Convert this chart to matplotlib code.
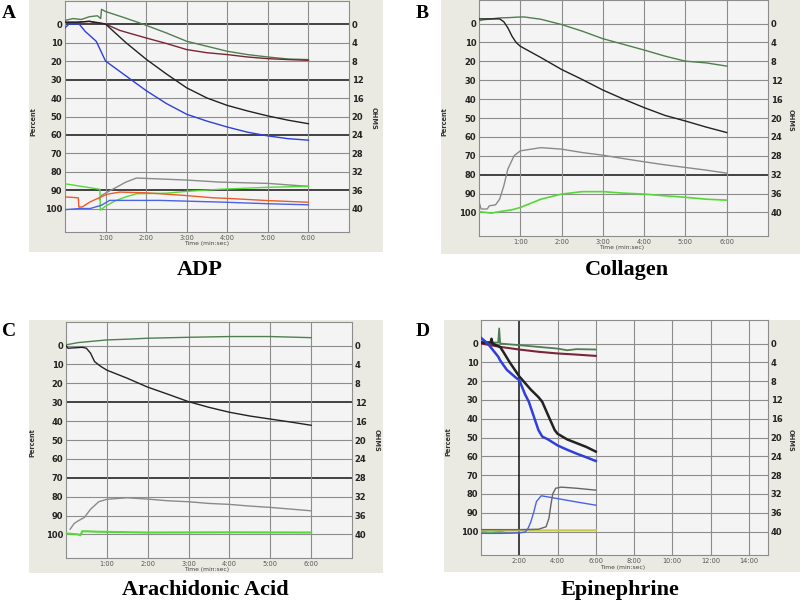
import matplotlib
matplotlib.use("Agg")
import matplotlib.pyplot as plt
from matplotlib.patches import Rectangle

W, H = 800, 603

# ---------------- data (time in minutes, value in Percent) ----------------
# Panel A: ADP
A_dkgreen_t = [0, 0.2, 0.4, 0.6, 0.8, 0.88, 0.9, 1.0, 1.5, 1.92, 2.5, 3.0, 3.5, 4.0, 4.5, 5.0, 5.5, 6.0]
A_dkgreen_v = [-2, -3, -2.5, -4, -4.5, -3, -8, -6.8, -3.2, 0, 4.8, 9.3, 12, 14.7, 16.5, 17.8, 18.9, 19.2]
A_maroon_t = [0, 0.3, 0.6, 0.8, 1.0, 1.35, 1.6, 2.0, 2.5, 3.0, 3.5, 4.0, 4.5, 5.0, 5.5, 6.0]
A_maroon_v = [-1, -1, -1.5, -0.5, 0, 3.4, 5, 7.5, 10.5, 13.8, 15.5, 16.5, 17.8, 18.7, 19.2, 19.6]
A_black_t = [0, 0.3, 0.6, 0.9, 1.0, 1.25, 1.5, 2.0, 2.5, 3.0, 3.5, 4.0, 4.5, 5.0, 5.5, 6.0]
A_black_v = [-1, -1, -1.5, -0.5, 0, 5, 10, 19, 27, 34.5, 40, 44, 47, 49.7, 52, 53.9]
A_blue_t = [0, 0.1, 0.35, 0.5, 0.77, 1.0, 1.25, 1.5, 2.0, 2.5, 3.0, 3.5, 4.0, 4.5, 5.0, 5.5, 6.0]
A_blue_v = [2, 0, 0, 4, 9.3, 20, 24, 28, 36, 43, 48.8, 52.5, 55.7, 58.5, 60.5, 62, 62.8]
A_gray_t = [0.85, 0.9, 1.06, 1.25, 1.5, 1.76, 2.0, 3.0, 3.82, 5.0, 6.0]
A_gray_v = [95, 92.7, 90.7, 88.5, 85.5, 83.3, 83.5, 84.4, 85.5, 86.2, 87.8]
A_ltgreen_t = [0, 0.86, 0.87, 1.0, 1.25, 1.5, 1.76, 2.5, 3.0, 3.8, 5.0, 6.0]
A_ltgreen_v = [86.4, 89.4, 100.7, 98.5, 95.5, 93.5, 91.8, 91.5, 90.5, 89.4, 88.3, 87.8]
A_orange_t = [0, 0.33, 0.34, 0.42, 0.62, 1.03, 1.35, 2.0, 2.34, 3.0, 3.65, 4.0, 5.0, 6.0]
A_orange_v = [93.5, 94, 99, 99, 96.2, 92.1, 90.9, 91.3, 91.8, 92.8, 94, 94.3, 95.5, 96.4]
A_ltblue_t = [0, 0.37, 0.62, 0.9, 1.1, 2.34, 3.15, 3.82, 5.0, 6.0]
A_ltblue_v = [100.4, 99.8, 99.8, 98, 95.4, 95.4, 95.9, 96.3, 97.2, 97.8]

# Panel B: Collagen
B_dkgreen_t = [0, 0.1, 0.3, 0.5, 0.75, 1.0, 1.1, 1.5, 2.0, 2.5, 3.0, 3.5, 4.0, 4.5, 5.0, 5.5, 6.0]
B_dkgreen_v = [-1.5, -2, -2.5, -3, -3.2, -3.5, -3.5, -2.3, 0.5, 4, 8, 11, 14, 17.2, 19.9, 20.8, 22.5]
B_black_t = [0, 0.3, 0.5, 0.6, 0.7, 0.8, 0.9, 1.0, 1.5, 2.0, 2.5, 3.0, 3.5, 4.0, 4.5, 5.0, 5.5, 6.0]
B_black_v = [-2.5, -2.5, -2.5, -1, 2.3, 6.7, 10, 12, 18, 24.3, 29.6, 35.2, 40, 44.5, 48.6, 51.6, 54.8, 57.7]
B_gray_t = [0, 0.05, 0.2, 0.25, 0.4, 0.5, 0.6, 0.7, 0.85, 1.0, 1.5, 2.0, 2.5, 3.0, 3.5, 4.0, 4.5, 5.0, 5.5, 6.0]
B_gray_v = [94.4, 98.2, 98.2, 96.5, 96, 93, 86, 77, 70, 67.4, 65.7, 66.5, 68.3, 69.7, 71.5, 73.2, 74.8, 76.2, 77.6, 79.2]
B_ltgreen_t = [0, 0.3, 0.5, 0.8, 1.0, 1.5, 2.0, 2.5, 3.0, 3.5, 4.0, 4.5, 5.0, 5.5, 6.0]
B_ltgreen_v = [99.6, 100.4, 99.6, 98.6, 97.4, 93, 90.3, 89, 89, 89.8, 90.3, 91.2, 92, 93, 93.5]

# Panel C: Arachidonic Acid
C_dkgreen_t = [0, 0.3, 0.5, 1.0, 1.5, 2.0, 3.0, 4.0, 5.0, 6.0]
C_dkgreen_v = [-0.4, -1.6, -2, -3, -3.4, -3.9, -4.4, -4.8, -4.8, -4.2]
C_black_t = [0, 0.05, 0.4, 0.5, 0.6, 0.7, 0.85, 1.0, 1.5, 2.0, 2.5, 3.0, 3.5, 4.0, 4.5, 5.0, 5.5, 6.0]
C_black_v = [0, 1.4, 0.9, 1.4, 4, 8.5, 11, 13, 17.3, 22, 25.8, 29.7, 32.7, 35.3, 37.3, 38.9, 40.5, 42.2]
C_gray_t = [0.1, 0.2, 0.3, 0.45, 0.6, 0.8, 1.0, 1.5, 2.0, 2.5, 3.0, 3.5, 4.0, 4.5, 5.0, 5.5, 6.0]
C_gray_v = [97.3, 94.2, 92.8, 91, 86.7, 82.7, 81.4, 80.6, 81.3, 82.2, 82.7, 83.6, 84.1, 85, 85.7, 86.6, 87.5]
C_ltgreen_t = [0, 0.3, 0.35, 0.4, 0.8, 2.0, 4.0, 6.0]
C_ltgreen_v = [99.5, 100, 100.5, 98.3, 98.6, 99, 98.9, 99]

# Panel D: Epinephrine
D_dkgreen_t = [0, 0.5, 0.9, 0.95, 1.0, 2.0, 3.0, 4.0, 4.5, 5.0, 6.0]
D_dkgreen_v = [-1, -0.5, -0.5, -8, 0, 0.9, 1.8, 2.7, 3.6, 3, 3.2]
D_maroon_t = [0, 1.0, 2.0, 3.0, 4.0, 5.0, 6.0]
D_maroon_v = [0, 1.8, 3.2, 4.4, 5.3, 5.9, 6.6]
D_black_t = [0, 0.5, 0.55, 0.6, 1.0, 1.2, 1.5, 2.0, 2.6, 3.0, 3.2, 3.5, 3.85, 4.0, 4.5, 5.0, 5.5, 6.0]
D_black_v = [-0.5, -0.5, -2.5, 0, 1.8, 5, 10, 17.5, 24.5, 28.5, 31, 38, 46, 48, 51, 53, 55, 57.5]
D_blue_t = [0, 0.35, 0.9, 1.0, 1.35, 1.8, 2.0, 2.3, 2.5, 2.8, 3.0, 3.2, 3.5, 4.0, 4.5, 5.0, 5.5, 6.0]
D_blue_v = [-3, 0, 7, 9, 14, 18, 19.5, 27, 31, 40, 46, 49.5, 51, 54.2, 56.5, 58.6, 60.5, 62.5]
D_gray_t = [0, 1.0, 2.0, 3.0, 3.4, 3.55, 3.65, 3.75, 3.9, 4.2, 5.0, 6.0]
D_gray_v = [99, 99, 99, 98.8, 97.5, 93, 86, 80, 77, 76.4, 77, 78]
D_ltblue_t = [0, 1.0, 2.0, 2.3, 2.45, 2.6, 2.75, 2.9, 3.15, 4.0, 5.0, 6.0]
D_ltblue_v = [101, 101, 100.8, 100.3, 98.5, 95, 90, 84, 81, 82.5, 84.3, 86]
D_yellow_t = [0, 2.0, 4.0, 6.0]
D_yellow_v = [99.6, 99.5, 99.4, 99.4]
D_ltgreen_t = [0, 0.5, 1.0, 1.2]
D_ltgreen_v = [100, 100.5, 100, 100.3]

percent_ticks = [0, 10, 20, 30, 40, 50, 60, 70, 80, 90, 100]
ohm_ticks = [0, 4, 8, 12, 16, 20, 24, 28, 32, 36, 40]

# ---------------- styling ----------------
C_DKGREEN = "#4f7f4f"
C_MAROON = "#7a2535"
C_BLACK = "#222222"
C_BLUE = "#2f3fdc"
C_GRAY = "#8a8a8a"
C_LTGREEN = "#55d838"
C_ORANGE = "#ee5a2a"
C_LTBLUE = "#4a62e8"
C_YELLOW = "#c8c84a"
BOX_BG = "#ebeae2"
PLOT_BG = "#f4f4f4"

fig = plt.figure(figsize=(8, 6.03), dpi=100)


def rect(x0, y0, x1, y1):
    return [x0 / W, 1 - y1 / H, (x1 - x0) / W, (y1 - y0) / H]


def ftext(x, y, s, **kw):
    fig.text(x / W, 1 - y / H, s, **kw)


def panel(box, axrect, xmax, xstep, dark_h, dark_v, curves, letter, lpos,
          title, tpos, plabel, olabel, tlabel):
    bx0, by0, bx1, by1 = box
    fig.patches.append(Rectangle((bx0 / W, 1 - by1 / H), (bx1 - bx0) / W, (by1 - by0) / H,
                                 transform=fig.transFigure, facecolor=BOX_BG,
                                 edgecolor="none", zorder=-5))
    ax = fig.add_axes(rect(*axrect))
    ax.set_zorder(1)
    ax.set_facecolor(PLOT_BG)
    ax.set_xlim(0, xmax)
    ax.set_ylim(112.5, -12.5)
    for v in percent_ticks:
        if v in dark_h:
            ax.axhline(v, color="#111111", lw=1.1, zorder=1)
        else:
            ax.axhline(v, color="#8c8c8c", lw=0.8, zorder=1)
    xt = list(range(xstep, xmax, xstep))
    for v in xt:
        if v in dark_v:
            ax.axvline(v, color="#111111", lw=1.1, zorder=1)
        else:
            ax.axvline(v, color="#8c8c8c", lw=0.8, zorder=1)
    for t, v, c, lw in curves:
        ax.plot(t, v, color=c, lw=lw, zorder=3)
    for s in ax.spines.values():
        s.set_color("#8c8c8c")
        s.set_linewidth(0.8)
    ax.set_yticks(percent_ticks)
    ax.set_yticklabels([str(v) for v in percent_ticks], fontsize=6, fontweight="bold",
                       color="#222222")
    ax.set_xticks(xt)
    ax.set_xticklabels(["%d:00" % v for v in xt], fontsize=4.8, color="#555555")
    ax.tick_params(axis="both", length=0, pad=2)
    sec = ax.secondary_yaxis("right", functions=(lambda y: y * 0.4, lambda y: y / 0.4))
    sec.set_yticks(ohm_ticks)
    sec.set_yticklabels([str(v) for v in ohm_ticks], fontsize=6, fontweight="bold",
                        color="#222222")
    sec.tick_params(length=0, pad=2)
    sec.spines["right"].set_visible(False)
    ftext(plabel[0], plabel[1], "Percent", rotation=90, ha="center", va="center",
          fontsize=4.8, fontweight="bold", color="#333333")
    ftext(olabel[0], olabel[1], "OHMS", rotation=270, ha="center", va="center",
          fontsize=4.8, fontweight="bold", color="#333333")
    ftext(tlabel[0], tlabel[1], "Time (min:sec)", ha="center", va="center",
          fontsize=4.3, color="#444444")
    ftext(lpos[0], lpos[1], letter, ha="center", va="center", fontsize=14,
          fontweight="bold", family="Liberation Serif")
    ftext(tpos[0], tpos[1], title, ha="center", va="center", fontsize=16,
          fontweight="bold", family="Liberation Serif")
    return ax


panel((29, 0, 383, 252), (65, 1, 349, 232), 7, 1, [0, 30, 60, 90], [],
      [(A_gray_t, A_gray_v, C_GRAY, 1.0),
       (A_ltgreen_t, A_ltgreen_v, C_LTGREEN, 1.0),
       (A_orange_t, A_orange_v, C_ORANGE, 1.0),
       (A_ltblue_t, A_ltblue_v, C_LTBLUE, 1.0),
       (A_dkgreen_t, A_dkgreen_v, C_DKGREEN, 1.0),
       (A_maroon_t, A_maroon_v, C_MAROON, 1.0),
       (A_black_t, A_black_v, C_BLACK, 1.0),
       (A_blue_t, A_blue_v, C_BLUE, 1.0)],
      "A", (9, 14), "ADP", (200, 270), (33, 122), (374, 118), (207, 244))

panel((441, 0, 800, 254), (479, 0, 768, 236), 7, 1, [80], [],
      [(B_gray_t, B_gray_v, C_GRAY, 1.0),
       (B_ltgreen_t, B_ltgreen_v, C_LTGREEN, 1.2),
       (B_dkgreen_t, B_dkgreen_v, C_DKGREEN, 1.0),
       (B_black_t, B_black_v, C_BLACK, 1.0)],
      "B", (422, 13), "Collagen", (627, 270), (444, 122), (791, 120), (622, 248))

panel((29, 320, 383, 573), (66, 322, 352, 558), 7, 1, [30, 70], [],
      [(C_gray_t, C_gray_v, C_GRAY, 1.0),
       (C_ltgreen_t, C_ltgreen_v, C_LTGREEN, 1.5),
       (C_dkgreen_t, C_dkgreen_v, C_DKGREEN, 1.0),
       (C_black_t, C_black_v, C_BLACK, 1.0)],
      "C", (9, 331), "Arachidonic Acid", (205, 590), (32, 443), (377, 440), (207, 569))

panel((444, 320, 800, 572), (481, 320, 768, 555), 15, 2, [], [2],
      [(D_yellow_t, D_yellow_v, C_YELLOW, 1.5),
       (D_ltgreen_t, D_ltgreen_v, C_LTGREEN, 1.0),
       (D_gray_t, D_gray_v, "#666666", 1.0),
       (D_ltblue_t, D_ltblue_v, C_LTBLUE, 1.0),
       (D_dkgreen_t, D_dkgreen_v, C_DKGREEN, 1.3),
       (D_maroon_t, D_maroon_v, C_MAROON, 1.5),
       (D_black_t, D_black_v, C_BLACK, 1.8),
       (D_blue_t, D_blue_v, C_BLUE, 1.8)],
      "D", (423, 331), "Epinephrine", (620, 590), (448, 442), (791, 440), (623, 567))

fig.savefig("out.png", dpi=100)
